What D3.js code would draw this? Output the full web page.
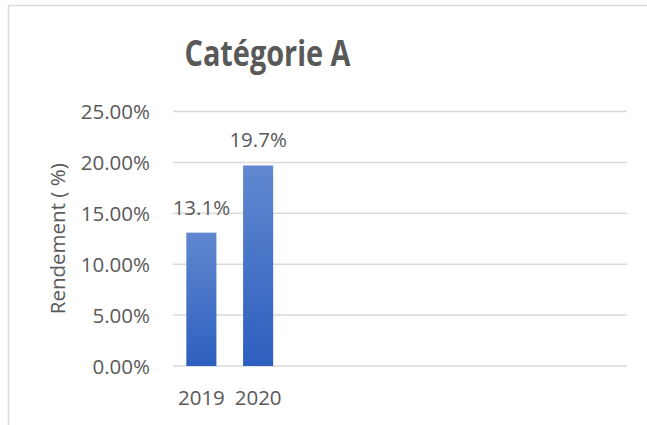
<!DOCTYPE html>
<html>
<head>
<meta charset="utf-8">
<script src="https://cdn.jsdelivr.net/npm/d3@7"></script>
<style>
  body { margin: 0; background: #fff; }
  text { font-family: "Open Sans", sans-serif; fill: #595959; }
</style>
</head>
<body>
<svg id="drawing_region"></svg>
<script>
var categories = ['2019', '2020', '', '', '', '', '', ''];
var values = [13.1, 19.7, null, null, null, null, null, null];
var yTicks = [0, 5, 10, 15, 20, 25];
var title = 'Catégorie A';
var yTitle = 'Rendement ( %)';

var width = 647;
var height = 425;
var margin = {top: 111.5, right: 20, bottom: 59, left: 173};
var fontSize = 20.5;

var svg = d3.select('#drawing_region')
    .attr('width', width)
    .attr('height', height);

// chart frame (only top and left edges are visible in the crop)
svg.append('path')
    .attr('d', `M8.5,425 V5.5 H${width}`)
    .attr('fill', 'none')
    .attr('stroke', '#d9d9d9')
    .attr('stroke-width', 1.5);

var defs = svg.append('defs');
var grad = defs.append('linearGradient')
    .attr('id', 'barGrad')
    .attr('x1', 0).attr('y1', 0).attr('x2', 0).attr('y2', 1);
grad.append('stop').attr('offset', '0%').attr('stop-color', '#6188d0');
grad.append('stop').attr('offset', '100%').attr('stop-color', '#2d5fbf');

var xscale = d3.scaleBand()
    .domain(d3.range(categories.length))
    .range([margin.left, width - margin.right])
    .paddingInner(0.47)
    .paddingOuter(0.235);

var yscale = d3.scaleLinear()
    .domain([0, 25])
    .range([height - margin.bottom, margin.top]);

// gridlines
svg.append('g')
    .selectAll('line')
    .data(yTicks)
    .join('line')
    .attr('x1', margin.left)
    .attr('x2', width - margin.right)
    .attr('y1', d => yscale(d))
    .attr('y2', d => yscale(d))
    .attr('stroke', '#d9d9d9')
    .attr('stroke-width', 1.5);

// y axis labels
var yaxis = d3.axisLeft(yscale)
    .tickValues(yTicks)
    .tickFormat(d => d.toFixed(2) + '%')
    .tickSize(0)
    .tickPadding(0);

var yg = svg.append('g')
    .attr('transform', `translate(150,0)`)
    .call(yaxis);
yg.select('.domain').remove();
yg.selectAll('text')
    .attr('font-size', fontSize)
    .attr('font-family', '"Open Sans", sans-serif')
    .attr('fill', '#595959')
    .attr('dy', '0.35em');

// x axis labels
var xaxis = d3.axisBottom(xscale)
    .tickFormat(i => categories[i])
    .tickSize(0)
    .tickPadding(0);

var xg = svg.append('g')
    .attr('transform', `translate(0,${yscale(0)})`)
    .call(xaxis);
xg.select('.domain').remove();
xg.selectAll('text')
    .attr('font-size', fontSize)
    .attr('font-family', '"Open Sans", sans-serif')
    .attr('fill', '#595959')
    .attr('dy', null)
    .attr('y', 39);

// bars
var barData = values.map((v, i) => ({i: i, v: v})).filter(d => d.v != null);

svg.append('g')
    .selectAll('rect')
    .data(barData)
    .join('rect')
    .attr('x', d => xscale(d.i))
    .attr('y', d => yscale(d.v))
    .attr('width', xscale.bandwidth())
    .attr('height', d => yscale(0) - yscale(d.v))
    .attr('fill', 'url(#barGrad)');

// data labels
svg.append('g')
    .selectAll('text')
    .data(barData)
    .join('text')
    .attr('x', d => xscale(d.i) + xscale.bandwidth() / 2)
    .attr('y', d => yscale(d.v) - 18)
    .attr('text-anchor', 'middle')
    .attr('font-size', fontSize)
    .text(d => d.v.toFixed(1) + '%');

// title
svg.append('text')
    .attr('x', 267.5)
    .attr('y', 66)
    .attr('text-anchor', 'middle')
    .attr('font-weight', 'bold')
    .attr('font-size', 35)
    .attr('textLength', 166)
    .attr('lengthAdjust', 'spacingAndGlyphs')
    .text(title);

// y axis title
svg.append('text')
    .attr('transform', `translate(65,${(yscale(0) + yscale(25)) / 2}) rotate(-90)`)
    .attr('text-anchor', 'middle')
    .attr('font-size', fontSize)
    .text(yTitle);
</script>
</body>
</html>
